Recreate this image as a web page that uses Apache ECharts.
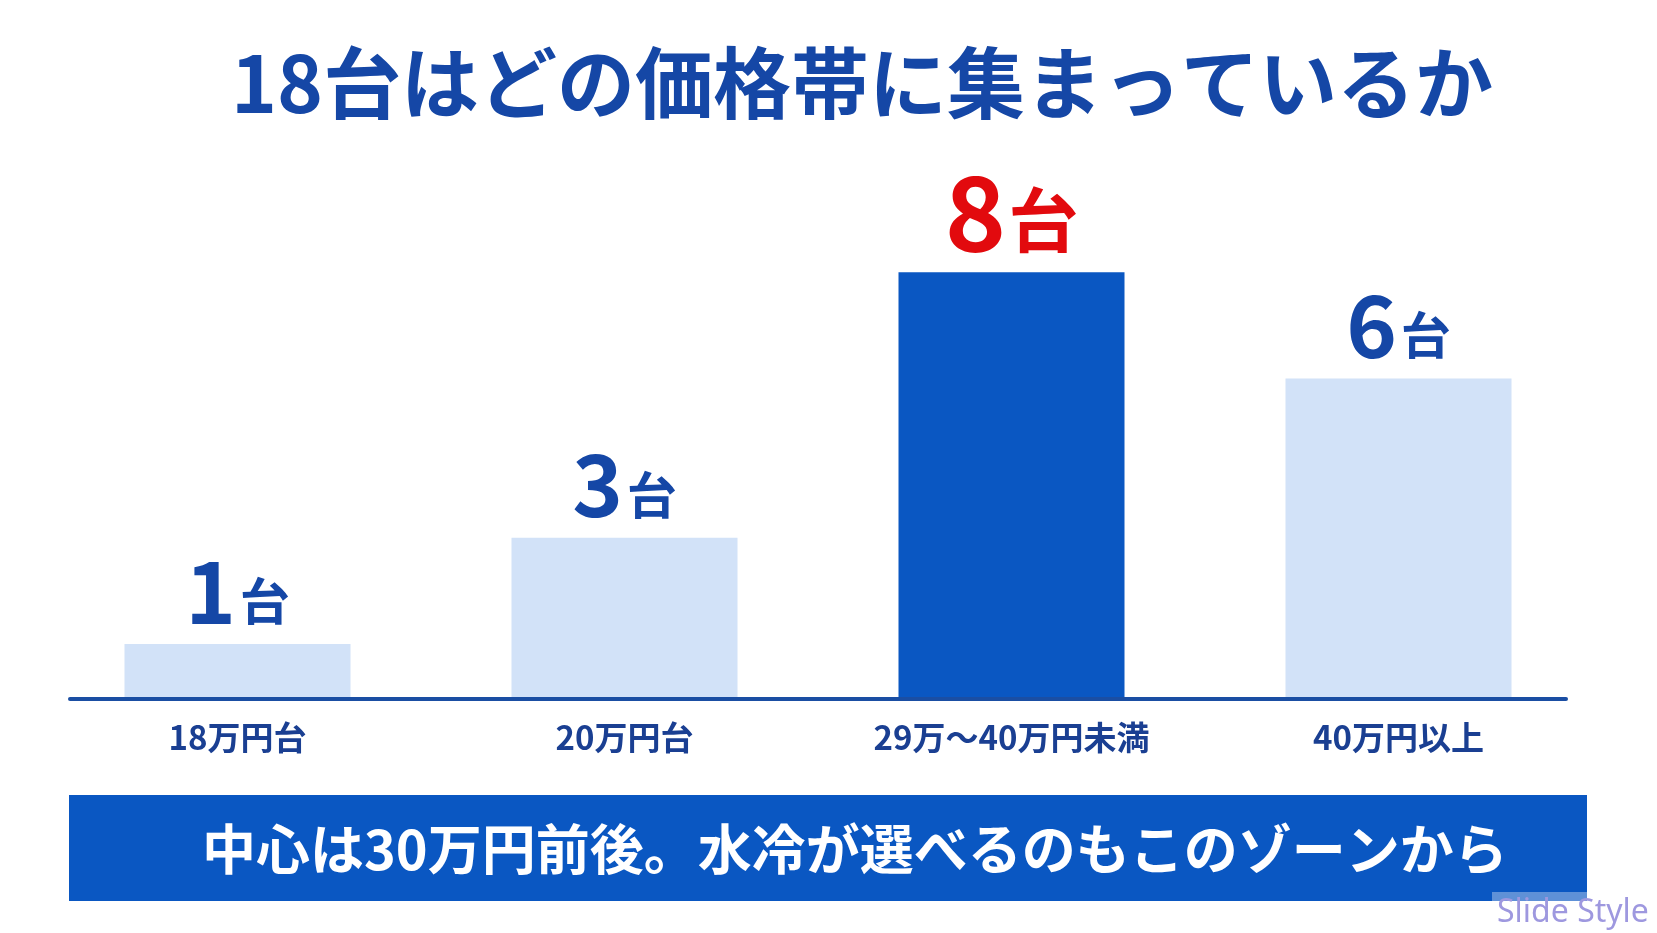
<!DOCTYPE html>
<html>
<head>
<meta charset="utf-8">
<script src="https://cdn.jsdelivr.net/npm/echarts@6/dist/echarts.min.js"></script>
<style>
html,body{margin:0;padding:0;background:#ffffff;}
#chart{width:1657px;height:933px;}
</style>
</head>
<body>
<div id="chart"></div>
<script>
const titleText = '18台はどの価格帯に集まっているか';
const categories = ['18万円台', '20万円台', '29万～40万円未満', '40万円以上'];
const counts = [1, 3, 8, 6];
const unitLabel = '台';
const highlightIndex = 2;
const bannerText = '中心は30万円前後。水冷が選べるのもこのゾーンから';
const watermarkText = 'Slide Style';

const FONT = '"Noto Sans CJK JP", "Noto Sans", sans-serif';
const DARK = '#1547a6';
const LIGHT_BAR = '#d2e2f8';
const HI_BAR = '#0a57c2';
const RED = '#e20a0e';

const chart = echarts.init(document.getElementById('chart'));

const barData = counts.map((v, i) => {
  const hi = i === highlightIndex;
  return {
    value: v,
    itemStyle: { color: hi ? HI_BAR : LIGHT_BAR },
    label: {
      distance: hi ? 8 : 10,
      formatter: hi ? '{bn|{c}}{bu|' + unitLabel + '}' : '{n|{c}}{u|' + unitLabel + '}'
    }
  };
});

chart.setOption({
  backgroundColor: '#ffffff',
  animation: false,
  title: {
    text: titleText,
    left: 226,
    top: 39,
    textStyle: { fontFamily: FONT, fontSize: 78, fontWeight: 'bold', color: DARK }
  },
  grid: [
    { left: 44, right: 65, top: 166, bottom: 236 },
    { left: 70, right: 91, top: 600, bottom: 234 }
  ],
  xAxis: [
    {
      gridIndex: 0,
      type: 'category',
      data: categories,
      axisLine: { show: false },
      axisTick: { show: false },
      axisLabel: {
        margin: 24,
        fontFamily: FONT,
        fontSize: 33,
        fontWeight: 'bold',
        color: '#1a3f92'
      }
    },
    {
      gridIndex: 1,
      type: 'value',
      min: 0, max: 1,
      axisLine: { show: true, onZero: false, lineStyle: { color: '#1a4ea3', width: 4 } },
      axisTick: { show: false },
      axisLabel: { show: false },
      splitLine: { show: false }
    }
  ],
  yAxis: [
    { gridIndex: 0, type: 'value', min: 0, max: 10, show: false },
    { gridIndex: 1, type: 'value', min: 0, max: 1, show: false }
  ],
  series: [
    {
      type: 'bar',
      xAxisIndex: 0,
      yAxisIndex: 0,
      barWidth: 226,
      data: barData,
      label: {
        show: true,
        position: 'top',
        rich: {
          n: { fontFamily: FONT, fontSize: 86, fontWeight: 'bold', color: DARK, lineHeight: 86, verticalAlign: 'bottom' },
          u: { fontFamily: FONT, fontSize: 50, fontWeight: 'bold', color: DARK, lineHeight: 50, verticalAlign: 'bottom', padding: [0, 0, 8, 4] },
          bn: { fontFamily: FONT, fontSize: 104, fontWeight: 'bold', color: RED, lineHeight: 104, verticalAlign: 'bottom' },
          bu: { fontFamily: FONT, fontSize: 70, fontWeight: 'bold', color: RED, lineHeight: 70, verticalAlign: 'bottom', padding: [0, 0, 9, 2] }
        }
      }
    }
  ],
  graphic: [
    {
      type: 'rect',
      left: 69, top: 795,
      shape: { width: 1518, height: 106 },
      style: { fill: HI_BAR },
      z: 10
    },
    {
      type: 'text',
      x: 202, y: 849,
      style: {
        text: bannerText,
        fill: '#ffffff',
        font: 'bold 54px ' + FONT,
        textAlign: 'left',
        textVerticalAlign: 'middle'
      },
      z: 11
    },
    {
      type: 'rect',
      left: 1492, top: 892,
      shape: { width: 165, height: 41 },
      style: { fill: 'rgba(255,255,255,0.35)' },
      z: 12
    },
    {
      type: 'text',
      x: 1497, y: 929,
      style: {
        text: watermarkText,
        fill: '#9e98df',
        font: '32px "Noto Sans", sans-serif',
        textAlign: 'left',
        textVerticalAlign: 'bottom'
      },
      z: 13
    }
  ]
});
</script>
</body>
</html>
